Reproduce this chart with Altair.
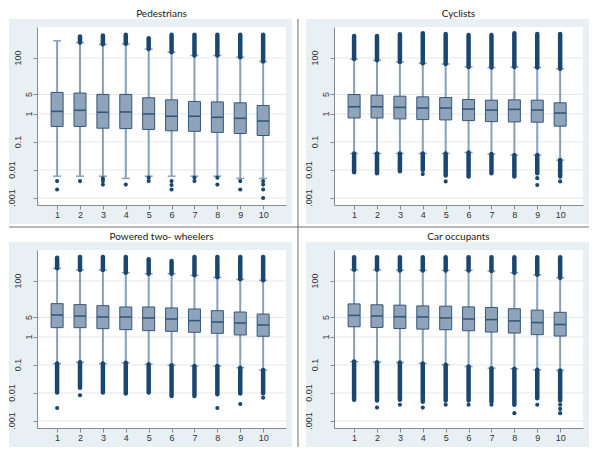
import altair as alt
import pandas as pd

# ---------------- data ----------------
CATS = [1, 2, 3, 4, 5, 6, 7, 8, 9, 10]
Y_TICKS = [0.001, 0.01, 0.1, 1, 5, 100]
Y_TICK_LABELS = [".001", "0.01", "0.1", "1", "5", "100"]
TITLES = ["Pedestrians", "Cyclists", "Powered two- wheelers", "Car occupants"]

# Pedestrians
PED_Q1 = [0.36, 0.36, 0.31, 0.30, 0.28, 0.25, 0.24, 0.22, 0.20, 0.17]
PED_MEDIAN = [1.24, 1.35, 1.15, 1.18, 1.0, 0.83, 0.83, 0.76, 0.70, 0.56]
PED_Q3 = [5.9, 5.6, 5.0, 5.0, 3.8, 3.2, 2.8, 2.7, 2.5, 2.0]
PED_LOW = [0.006, 0.006, 0.006, 0.005, 0.006, 0.006, 0.006, 0.006, 0.005, 0.005]
PED_HIGH = [410, 357, 311, 320, 208, 162, 123, 123, 107, 75]
PED_OUT_TOP = [None, 585, 635, 670, 510, 670, 670, 670, 670, 670]
PED_OUT_BOTTOM = [None, None, None, None, None, None, None, None, None, None]
PED_DOT_CAT = [1, 1, 2, 3, 3, 3, 4, 5, 5, 6, 6, 6, 7, 7, 8, 8, 9, 9, 10, 10, 10, 10]
PED_DOT_VALUE = [0.004, 0.002, 0.004, 0.005, 0.004, 0.003, 0.003, 0.0053, 0.004,
                 0.004, 0.0029, 0.002, 0.0053, 0.004, 0.0053, 0.003, 0.004, 0.002,
                 0.004, 0.003, 0.002, 0.001]

# Cyclists
CYC_Q1 = [0.72, 0.72, 0.667, 0.63, 0.614, 0.58, 0.535, 0.52, 0.508, 0.367]
CYC_MEDIAN = [1.81, 1.81, 1.72, 1.63, 1.63, 1.5, 1.38, 1.46, 1.38, 1.08]
CYC_Q3 = [4.94, 4.68, 4.32, 4.09, 3.87, 3.3, 3.12, 3.2, 3.12, 2.51]
CYC_LOW = [0.039, 0.039, 0.039, 0.039, 0.039, 0.042, 0.037, 0.034, 0.034, 0.0225]
CYC_HIGH = [92, 83, 72, 65, 61, 48, 45.5, 48, 45.5, 41]
CYC_OUT_TOP = [613, 613, 700, 760, 720, 665, 665, 760, 720, 720]
CYC_OUT_BOTTOM = [0.0083, 0.0076, 0.009, 0.010, 0.0063, 0.0058, 0.0076, 0.0058, 0.0076, 0.0058]
CYC_DOT_CAT = [4, 5, 9, 9, 10]
CYC_DOT_VALUE = [0.0071, 0.0039, 0.0051, 0.0029, 0.0039]

# Powered two-wheelers
PTW_Q1 = [2.15, 2.15, 1.99, 1.83, 1.68, 1.59, 1.47, 1.35, 1.18, 1.06]
PTW_MEDIAN = [6.1, 5.6, 5.18, 5.18, 4.77, 4.4, 3.83, 3.43, 3.16, 2.68]
PTW_Q3 = [15.5, 14.3, 13.1, 11.8, 11.8, 10.9, 10.0, 8.7, 7.8, 6.6]
PTW_LOW = [0.112, 0.124, 0.112, 0.12, 0.106, 0.0975, 0.092, 0.092, 0.080, 0.066]
PTW_HIGH = [283, 246, 246, 198, 183, 183, 159, 135, 115, 106]
PTW_OUT_TOP = [680, 720, 720, 720, 595, 520, 720, 720, 720, 720]
PTW_OUT_BOTTOM = [0.0103, 0.0155, 0.0103, 0.0095, 0.0103, 0.0078, 0.0078, 0.009, 0.0095, 0.0098]
PTW_DOT_CAT = [1, 2, 8, 9, 10]
PTW_DOT_VALUE = [0.0029, 0.0083, 0.0029, 0.0040, 0.0068]

# Car occupants
CAR_Q1 = [2.31, 2.19, 2.0, 1.91, 1.81, 1.67, 1.5, 1.38, 1.21, 1.08]
CAR_MEDIAN = [5.9, 5.6, 5.3, 5.2, 4.78, 4.4, 4.17, 3.75, 3.27, 2.79]
CAR_Q3 = [15.2, 14.1, 13.7, 12.9, 12.6, 11.9, 11.3, 10.2, 9.1, 7.6]
CAR_LOW = [0.132, 0.126, 0.122, 0.113, 0.101, 0.088, 0.077, 0.073, 0.067, 0.064]
CAR_HIGH = [251, 251, 239, 239, 239, 239, 226, 196, 167, 131]
CAR_OUT_TOP = [700, 700, 700, 700, 700, 700, 700, 700, 700, 700]
CAR_OUT_BOTTOM = [0.0057, 0.0054, 0.0057, 0.0049, 0.0054, 0.0054, 0.0049, 0.0038, 0.0065, 0.0054]
CAR_DOT_CAT = [2, 3, 4, 5, 6, 7, 8, 9, 10, 10, 10]
CAR_DOT_VALUE = [0.0030, 0.0038, 0.0030, 0.0038, 0.0038, 0.0038, 0.0019, 0.0038, 0.0038, 0.0027, 0.0019]

# ---------------- style / layout ----------------
BLUE = "#e8f0f3"
GRID = "#e4e7ea"
AXIS_GREY = "#8a8a8a"
BOX_FILL = "#8fa4ba"
BOX_LINE = "#33577b"
WHISKER = "#86a0b9"
NAVY = "#1a476f"
LABEL = "#333333"
DIVIDER = "#707070"

PW, PH = 249, 178                     # plot region of each panel
COL_GAP, ROW_GAP = 48, 45             # gaps between plot regions
MARGIN_L, MARGIN_R, MARGIN_T, MARGIN_B = 28, 6, 8, 19   # blue graph region around plot
X_DOMAIN = [0.34, 10.78]
Y_DOMAIN = [0.00056, 1280]
# distance of each rotated y label's centre from the axis line (Stata staggers them)
Y_LABEL_DIST = [25, 25, 19, 8.5, 8.5, 19]


def make_panel(title, q1, med, q3, low, high, out_top, out_bottom, dot_cat, dot_val,
               decorations=False):
    xs = alt.Scale(domain=X_DOMAIN, nice=False, zero=False)
    ys = alt.Scale(type="log", domain=Y_DOMAIN, nice=False)

    x_axis = alt.Axis(values=CATS, format="d", title=None, grid=False,
                      orient="bottom", zindex=1, labelColor=LABEL,
                      labelFont="Liberation Sans", labelFontSize=9,
                      labelPadding=1, tickSize=4, tickColor=AXIS_GREY,
                      domainColor=AXIS_GREY, labelFlush=False, labelOverlap=False)
    y_axis = alt.Axis(values=Y_TICKS, labels=False, title=None, grid=False,
                      orient="left", zindex=1, tickSize=4, tickColor=AXIS_GREY,
                      domainColor=AXIS_GREY)

    boxes = pd.DataFrame({"cat": CATS, "q1": q1, "med": med, "q3": q3,
                          "low": low, "high": high})
    top = pd.DataFrame({"cat": CATS, "high": high, "out": out_top}).dropna()
    bottom = pd.DataFrame({"cat": CATS, "low": low, "out": out_bottom}).dropna()
    dots = pd.DataFrame({"cat": dot_cat, "v": dot_val})
    grid = pd.DataFrame({"v": Y_TICKS, "label": Y_TICK_LABELS, "dist": Y_LABEL_DIST})
    one = pd.DataFrame({"d": [0]})

    # every layer carries the same axis definition so the shared axes merge cleanly
    def X(field):
        return alt.X(field, type="quantitative", scale=xs, axis=x_axis)

    def Y(field):
        return alt.Y(field, type="quantitative", scale=ys, axis=y_axis)

    graph_region = alt.Chart(one).mark_rect(fill=BLUE).encode(
        x=alt.value(-MARGIN_L), x2=alt.value(PW + MARGIN_R),
        y=alt.value(-MARGIN_T), y2=alt.value(PH + MARGIN_B))
    plot_bg = alt.Chart(one).mark_rect(fill="white").encode(
        x=alt.value(0), x2=alt.value(PW), y=alt.value(0), y2=alt.value(PH))
    grid_lines = alt.Chart(grid).mark_rule(color=GRID, strokeWidth=1).encode(
        y=Y("v"), x=alt.value(0), x2=alt.value(PW))
    y_labels = alt.Chart(grid).mark_text(
        angle=270, align="center", baseline="middle", font="Liberation Sans",
        fontSize=9, color=LABEL).encode(
        y=Y("v"), x=alt.value(0), xOffset=alt.XOffset("neg:Q", scale=None),
        text="label:N").transform_calculate(neg="-datum.dist")
    whiskers = alt.Chart(boxes).mark_rule(color=WHISKER, strokeWidth=2).encode(
        x=X("cat"), y=Y("low"), y2="high"
    )
    cap_hi = alt.Chart(boxes).mark_tick(orient="horizontal", size=8, thickness=1.5,
                                        color=WHISKER, opacity=1).encode(
        x=X("cat"), y=Y("high"))
    cap_lo = alt.Chart(boxes).mark_tick(orient="horizontal", size=8, thickness=1.5,
                                        color=WHISKER, opacity=1).encode(
        x=X("cat"), y=Y("low"))
    layers = [graph_region, plot_bg, grid_lines, y_labels, whiskers, cap_hi, cap_lo]
    if len(top):
        layers.append(alt.Chart(top).mark_rule(color=NAVY, strokeWidth=4.5,
                                               strokeCap="round").encode(
            x=X("cat"), y=Y("high"), y2="out"))
    if len(bottom):
        layers.append(alt.Chart(bottom).mark_rule(color=NAVY, strokeWidth=4.5,
                                                  strokeCap="round").encode(
            x=X("cat"), y=Y("out"), y2="low"))
    box = alt.Chart(boxes).mark_bar(size=12, fill=BOX_FILL, stroke=BOX_LINE,
                                    strokeWidth=1, opacity=1).encode(
        x=X("cat"), y=Y("q1"), y2="q3")
    median = alt.Chart(boxes).mark_tick(orient="horizontal", size=12, thickness=1.6,
                                        color=BOX_LINE, opacity=1).encode(
        x=X("cat"), y=Y("med"))
    outl = alt.Chart(dots).mark_circle(size=17, color=NAVY, opacity=1).encode(
        x=X("cat"), y=Y("v"))
    layers += [box, median, outl]

    if decorations:
        layers.append(alt.Chart(one).mark_rule(color=DIVIDER, strokeWidth=1).encode(
            x=alt.value(PW + COL_GAP // 4), y=alt.value(-MARGIN_T),
            y2=alt.value(2 * PH + ROW_GAP + MARGIN_B)))
        layers.append(alt.Chart(one).mark_rule(color=DIVIDER, strokeWidth=1).encode(
            y=alt.value(PH + MARGIN_B + 3), x=alt.value(-MARGIN_L),
            x2=alt.value(2 * PW + COL_GAP + MARGIN_R)))

    return alt.layer(*layers).properties(
        width=PW, height=PH,
        title=alt.TitleParams(title, font="Lato", fontSize=10, fontWeight="normal",
                              color="#1a1a1a", anchor="middle", frame="group",
                              offset=-10, baseline="bottom"),
    )


p1 = make_panel(TITLES[0], PED_Q1, PED_MEDIAN, PED_Q3, PED_LOW, PED_HIGH,
                PED_OUT_TOP, PED_OUT_BOTTOM, PED_DOT_CAT, PED_DOT_VALUE, decorations=True)
p2 = make_panel(TITLES[1], CYC_Q1, CYC_MEDIAN, CYC_Q3, CYC_LOW, CYC_HIGH,
                CYC_OUT_TOP, CYC_OUT_BOTTOM, CYC_DOT_CAT, CYC_DOT_VALUE)
p3 = make_panel(TITLES[2], PTW_Q1, PTW_MEDIAN, PTW_Q3, PTW_LOW, PTW_HIGH,
                PTW_OUT_TOP, PTW_OUT_BOTTOM, PTW_DOT_CAT, PTW_DOT_VALUE)
p4 = make_panel(TITLES[3], CAR_Q1, CAR_MEDIAN, CAR_Q3, CAR_LOW, CAR_HIGH,
                CAR_OUT_TOP, CAR_OUT_BOTTOM, CAR_DOT_CAT, CAR_DOT_VALUE)

chart = alt.concat(p1, p2, p3, p4, columns=2,
                   spacing={"row": ROW_GAP, "column": COL_GAP},
                   bounds="flush").properties(padding=0, background="white"
                   ).configure_view(strokeWidth=0)

chart.save("out.html", embed_options={"renderer": "svg", "actions": False})
